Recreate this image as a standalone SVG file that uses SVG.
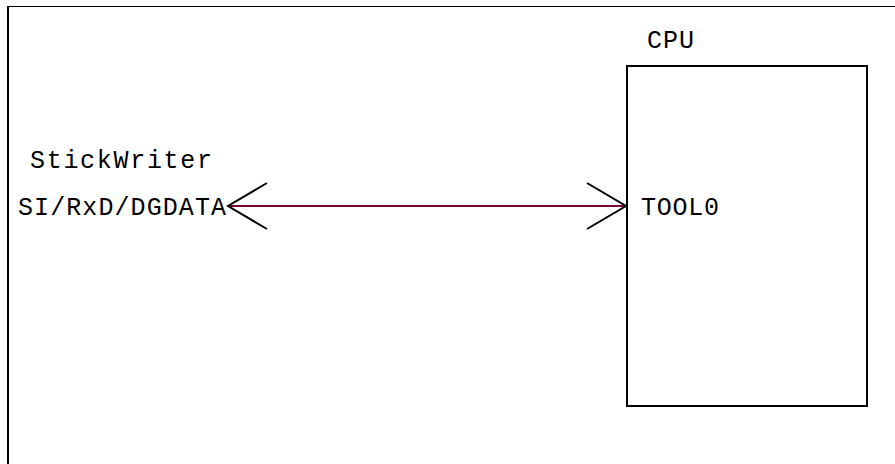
<svg xmlns="http://www.w3.org/2000/svg" width="895" height="464" viewBox="0 0 895 464">
<style>
.t{font-family:"Liberation Mono","Courier New",monospace;font-size:25px;fill:#000}
.b{fill:none;stroke:#000;stroke-width:2}
.h{fill:none;stroke:#000;stroke-width:2}
</style>
<rect width="895" height="464" fill="#fff"/>
<g id="frame">
<line x1="7" y1="6.5" x2="895" y2="6.5" stroke="#000" stroke-width="1.2"/>
<line x1="8" y1="6" x2="8" y2="464" stroke="#000" stroke-width="2"/>
</g>
<g id="stickwriter">
<text class="t" x="30" y="168" textLength="182" lengthAdjust="spacing">StickWriter</text>
<text class="t" x="18" y="215" textLength="208" lengthAdjust="spacing">SI/RxD/DGDATA</text>
</g>
<g id="cpu">
<text class="t" x="647" y="48" textLength="47" lengthAdjust="spacing">CPU</text>
<rect class="b" x="627" y="66" width="240" height="340"/>
<text class="t" x="641" y="215" textLength="78" lengthAdjust="spacing">TOOL0</text>
</g>
<g id="connectors">
<line x1="228" y1="206" x2="626" y2="206" stroke="#7a0038" stroke-width="2"/>
<polyline class="h" points="267,183 228,206 267,229"/>
<polyline class="h" points="587,183 626,206 587,229"/>
</g>
</svg>
